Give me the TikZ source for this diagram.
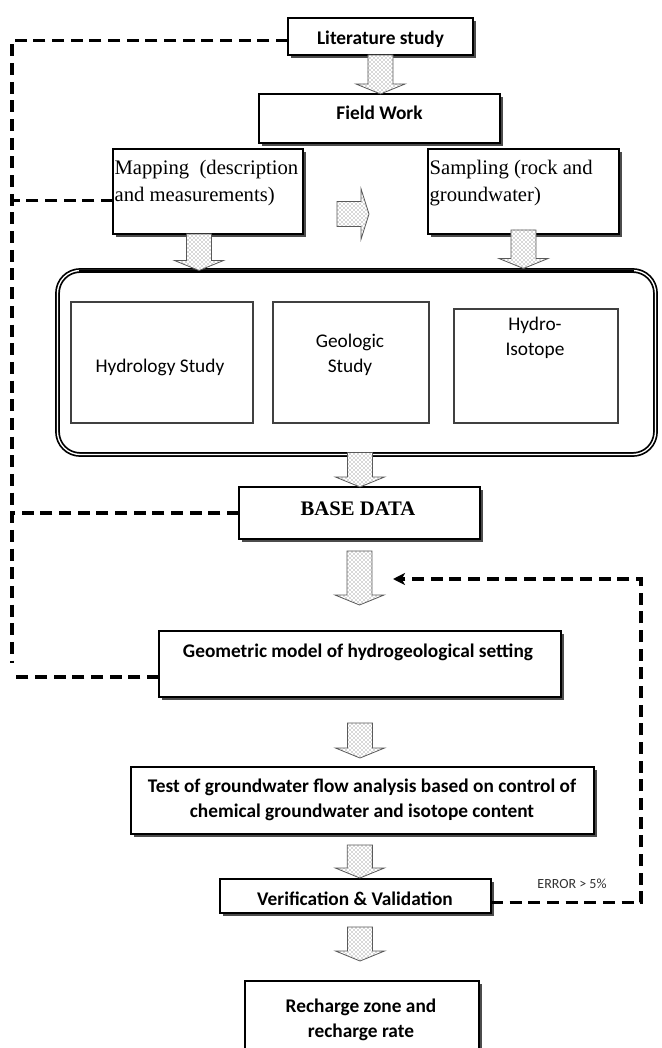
\documentclass[tikz,border=0pt]{standalone}
\usepackage{fontspec}
\setmainfont{Carlito}
\newfontfamily\tnr{Liberation Serif}
\usetikzlibrary{calc,shadows,patterns,arrows.meta}
\begin{document}
\begin{tikzpicture}[x=0.75pt,y=-0.75pt,
  box/.style={draw=black, line width=0.8pt, fill=white, inner sep=0pt, outer sep=0pt, rectangle,
    drop shadow={shadow xshift=2.2pt, shadow yshift=-2.2pt, fill=black!70, opacity=1}},
  inbox/.style={draw=black!75, line width=0.8pt, fill=white, inner sep=0pt, outer sep=0pt, rectangle},
  lbl/.style={font=\fontsize{14.5}{18.75}\selectfont\bfseries, align=center, inner sep=0pt},
  lblr/.style={font=\fontsize{14.5}{18.75}\selectfont, align=center, inner sep=0pt},
  tlbl/.style={font=\tnr\fontsize{15.5}{20.25}\selectfont, align=left, inner sep=1pt, anchor=west},
  blk/.style={preaction={fill=white}, preaction={pattern=crosshatch dots, pattern color=black!65}, draw=black!65, line width=0.6pt, line join=miter},
  downblk/.style={blk, to path={let \p1=(\tikztostart), \p2=(\tikztotarget) in
    (\x1-9.4pt,\y1) -- (\x1-9.4pt,\y2+7.5pt) -- (\x1-18.4pt,\y2+7.5pt) -- (\x1,\y2)
    -- (\x1+18.4pt,\y2+7.5pt) -- (\x1+9.4pt,\y2+7.5pt) -- (\x1+9.4pt,\y1) -- cycle}},
  rightblk/.style={blk, to path={let \p1=(\tikztostart), \p2=(\tikztotarget) in
    (\x1,\y1+9.4pt) -- (\x2-6pt,\y1+9.4pt) -- (\x2-6pt,\y1+19pt) -- (\x2,\y1)
    -- (\x2-6pt,\y1-19pt) -- (\x2-6pt,\y1-9.4pt) -- (\x1,\y1-9.4pt) -- cycle}},
  fb/.style={draw=black, line width=2.4pt, dash pattern=on 9pt off 5pt},
]
\useasboundingbox (0,0) rectangle (661,1048);

% container
\node[draw=black, line width=1.3pt, double=white, double distance=1pt, rounded corners=17pt,
      minimum width=448.5pt, minimum height=138pt, inner sep=0pt, outer sep=0pt] (cont) at (356.5,362.5) {};
\draw[line width=2.6pt] ([xshift=16pt,yshift=-0.8pt]cont.north west) -- ([xshift=-16pt,yshift=-0.8pt]cont.north east);

% inner boxes
\node[inbox, minimum width=136.5pt, minimum height=90.75pt] (hyd) at (162,362.5) {};
\node[inbox, minimum width=117pt, minimum height=90.75pt] (geo) at (351,362.5) {};
\node[inbox, minimum width=123pt, minimum height=85.5pt] (iso) at (536,366) {};
\node[lblr] (hydt) at (160,367) {Hydrology Study};
\node[lblr] (geot) at (350,354.5) {Geologic\\Study};
\node[lblr] (isot) at (535,337.5) {Hydro-\\Isotope};

% boxes
\node[box, minimum width=138.75pt, minimum height=27.75pt] (lit) at (380.5,36.5) {};
\node[box, minimum width=180.75pt, minimum height=36.75pt] (fw) at (379.5,118.5) {};
\node[box, minimum width=142.5pt, minimum height=63.75pt] (map) at (208,191.5) {};
\node[box, minimum width=143.25pt, minimum height=63.75pt] (samp) at (523.5,191.5) {};
\node[box, minimum width=180.75pt, minimum height=39pt] (base) at (359.5,513) {};
\node[box, minimum width=301.5pt, minimum height=49.5pt] (geom) at (360,664) {};
\node[box, minimum width=347.25pt, minimum height=50.25pt] (test) at (362.5,800.5) {};
\node[box, minimum width=203.25pt, minimum height=25.5pt] (verif) at (355.5,896) {};
\node[box, minimum width=175.5pt, minimum height=59.25pt] (rech) at (362,1020.5) {};

% texts
\node[lbl] (litt) at (380.5,39.5) {Literature study};
\node[lbl] (fwt) at (379.5,113) {Field Work};
\node[tlbl] (mapt) at (113,183.5) {Mapping\ \ (description\\and measurements)};
\node[tlbl] (sampt) at (428,183.5) {Sampling (rock and\\groundwater)};
\node[font=\tnr\fontsize{15.5}{18}\selectfont\bfseries, inner sep=0pt] (baset) at (358,509) {BASE DATA};
\node[lbl] (geomt) at (358,652) {Geometric model of hydrogeological setting};
\node[lbl] (testt) at (362,799.5) {Test of groundwater flow analysis based on control of\\chemical groundwater and isotope content};
\node[lbl] (veriftt) at (355,899) {Verification \& Validation};
\node[lbl] (recht) at (361,1019.5) {Recharge zone and\\recharge rate};
\node[font=\fontsize{10.5}{12}\selectfont, text=black!80, inner sep=0pt] (err) at (572,884) {ERROR > 5\%};

% block arrows
\path[downblk] (lit.south) to (fw.north);
\path[downblk] ([xshift=-6.75pt]map.south) to (cont.north);
\path[downblk] ([yshift=3pt]samp.south) to ([yshift=1.5pt]cont.north);
\path[rightblk] ([xshift=25.5pt,yshift=-16.9pt]map.east) to ([xshift=-44.25pt]samp.west);
\path[downblk] ([xshift=2.6pt,yshift=1.5pt]cont.south) to (base.north);
\path[downblk] ([yshift=-9pt]base.south) to ([yshift=19.5pt]geom.north);
\path[downblk] ([yshift=-19.5pt]geom.south) to ([yshift=6.75pt]test.north);
\path[downblk] ([xshift=-2pt,yshift=-8.25pt]test.south) to ([yshift=0.75pt]verif.north);
\path[downblk] ([xshift=3.4pt,yshift=-10.5pt]verif.south) to ([yshift=15pt]rech.north);

% dashed feedback lines
\coordinate (ltop) at (12,40);
\coordinate (lbot) at (12,663);
\coordinate (gend) at (10,677);
\coordinate (rc) at (641,903);
\coordinate (rt) at (641,579);
\coordinate (fbtip) at (393,579);
\coordinate (litd) at ([yshift=-3pt]lit.west);
\coordinate (mapd) at ([yshift=-7pt]map.west);
\coordinate (geomd) at ([yshift=-9.75pt]geom.west);
\coordinate (verifd) at ([yshift=-5pt]verif.east);
\draw[fb] (litd) -- (litd -| ltop) -- (lbot);
\draw[fb] (mapd) -- (mapd -| ltop);
\draw[fb] (base.west) -- (base.west -| ltop);
\draw[fb] (geomd) -- (geomd -| gend);
\draw[fb, -{Stealth[length=9pt,width=9pt,inset=2.5pt]}] (verifd) -- (verifd -| rc) -- (rt) -- (fbtip);
\end{tikzpicture}
\end{document}
